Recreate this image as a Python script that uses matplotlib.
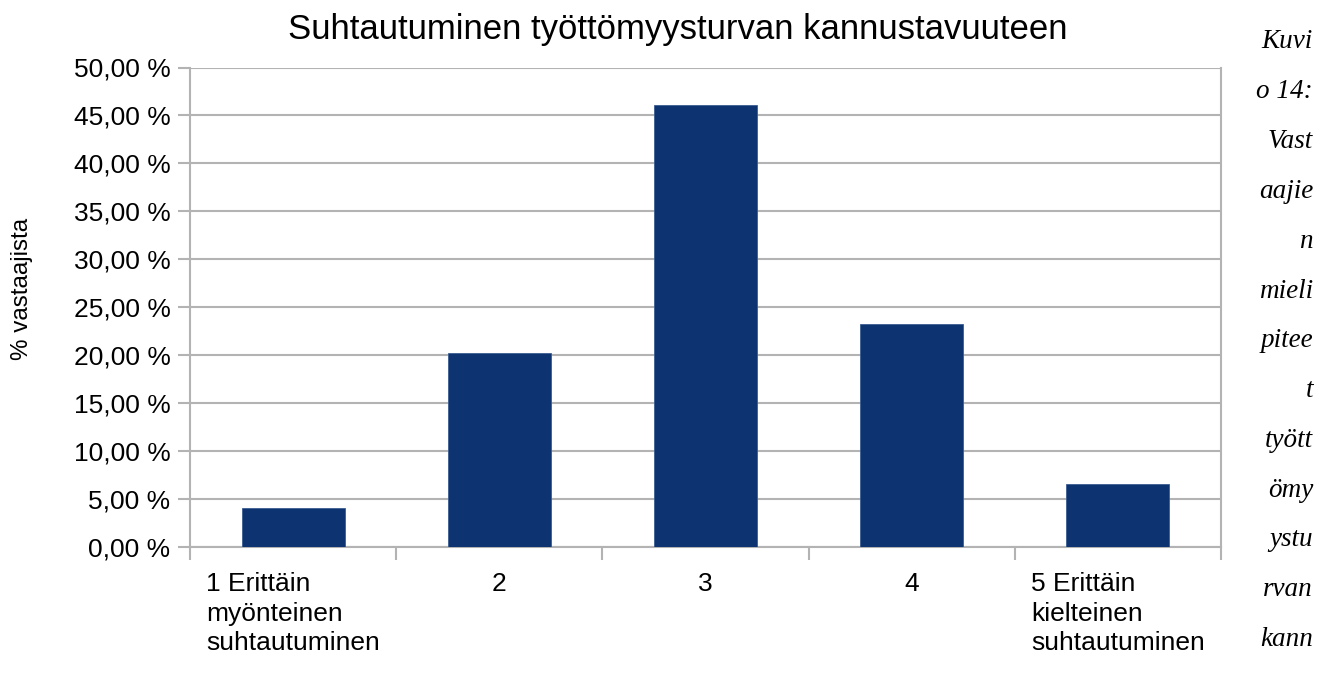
import matplotlib
matplotlib.use("Agg")
import matplotlib.pyplot as plt
from matplotlib.ticker import FuncFormatter, FixedLocator

categories = ["1 Erittäin\nmyönteinen\nsuhtautuminen", "2", "3", "4",
              "5 Erittäin\nkielteinen\nsuhtautuminen"]
shares = [4.1, 20.2, 46.1, 23.3, 6.6]
yticks = [0, 5, 10, 15, 20, 25, 30, 35, 40, 45, 50]
title = "Suhtautuminen työttömyysturvan kannustavuuteen"
ylabel = "% vastaajista"
caption_lines = ["Kuvi", "o 14:", "Vast", "aajie", "n", "mieli", "pitee", "t",
                 "tyött", "ömy", "ystu", "rvan", "kann"]

plt.rcParams['font.family'] = ['Liberation Sans', 'DejaVu Sans']

bar_color = "#0d3370"
grid_color = "#b3b3b3"

fig = plt.figure(figsize=(13.28, 6.83), dpi=100)
ax = fig.add_axes([190 / 1328, 1 - 547 / 683, (1221 - 190) / 1328, (547 - 67.5) / 683])

x = list(range(len(categories)))
ax.bar(x, shares, width=0.5, color=bar_color, edgecolor="#3b5d92", linewidth=0.6, zorder=3)

ax.set_xlim(-0.5, len(categories) - 0.5)
ax.set_ylim(0, 50)
ax.set_yticks(yticks)
ax.yaxis.set_major_formatter(FuncFormatter(lambda v, p: f"{v:.2f} %".replace(".", ",")))
ax.grid(True, axis="y", color=grid_color, linewidth=1.5, zorder=0)

ax.set_xticks(x)
ax.set_xticklabels(categories, ha="center", multialignment="left", va="top", linespacing=1.29)
ax.xaxis.set_minor_locator(FixedLocator([i - 0.5 for i in range(len(categories) + 1)]))
ax.tick_params(axis="x", which="major", length=0, pad=18, labelsize=19)
ax.tick_params(axis="x", which="minor", length=9, width=1.5, color=grid_color)
ax.tick_params(axis="y", length=9, width=1.5, color=grid_color, labelsize=19, pad=5)

for side in ["left", "right", "bottom"]:
    ax.spines[side].set_color(grid_color)
    ax.spines[side].set_linewidth(1.5)
ax.spines["top"].set_visible(False)

# y label placed by hand, like in the original layout
fig.text(22 / 1328, 1 - 289 / 683, ylabel, fontsize=17.4, rotation=90, ha="center", va="center")

fig.text(678 / 1328, 1 - 29 / 683, title, fontsize=25, ha="center", va="center")

for i, line in enumerate(caption_lines):
    fig.text(1313 / 1328, 1 - (42 + i * 49.8) / 683, line, fontsize=19.5,
             family="Liberation Serif", style="italic", ha="right", va="center")

fig.savefig("out.png", dpi=100)
